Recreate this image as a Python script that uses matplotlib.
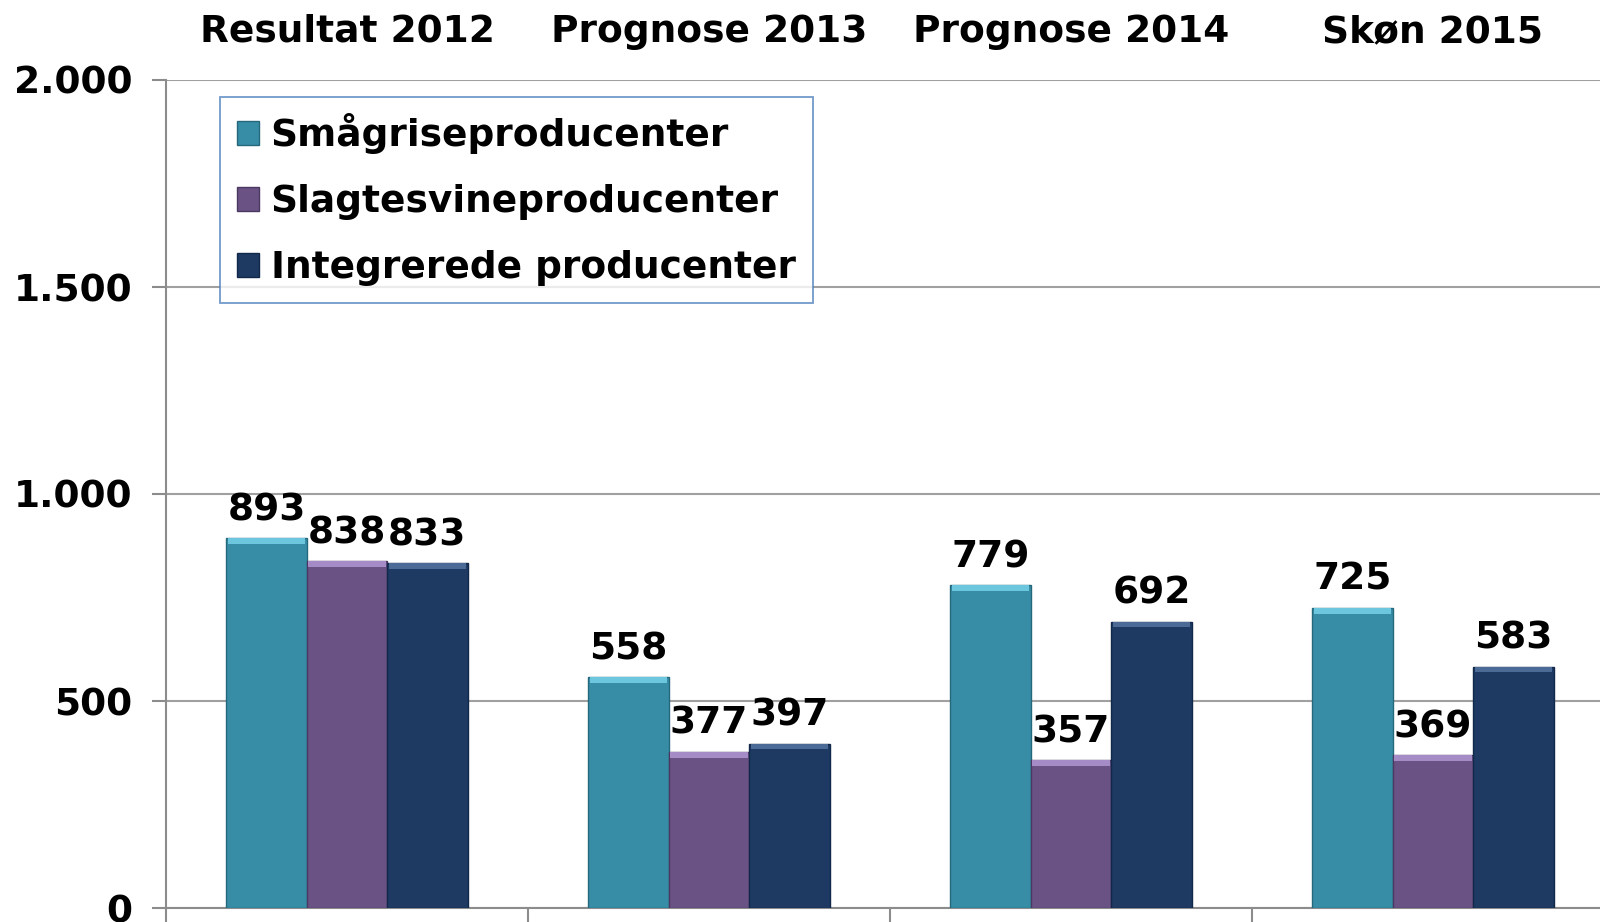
import matplotlib.pyplot as plt
import numpy as np

# Data
categories = ['Resultat 2012', 'Prognose 2013', 'Prognose 2014', 'Skøn 2015']
series_names = ['Smågriseproducenter', 'Slagtesvineproducenter', 'Integrerede producenter']
smaagris = [893, 558, 779, 725]
slagtesvin = [838, 377, 357, 369]
integrerede = [833, 397, 692, 583]
yticks = [0, 500, 1000, 1500, 2000]
ytick_labels = ['0', '500', '1.000', '1.500', '2.000']

colors = ['#378CA6', '#6A5384', '#1E3A62']
top_colors = ['#6CC6DE', '#A68CC6', '#4C6A96']
edge_colors = ['#25687C', '#4A3860', '#12284A']
FS = 27

fig = plt.figure(figsize=(16, 9.22), dpi=100)
# axes reaches slightly past the right edge like the original
ax = fig.add_axes([166 / 1600, 14 / 922, 1448 / 1600, 828 / 922])

x = np.arange(len(categories))
width = 0.222
values = [smaagris, slagtesvin, integrerede]

for i, (vals, name) in enumerate(zip(values, series_names)):
    pos = x + (i - 1) * width
    ax.bar(pos, vals, width, color=colors[i], edgecolor=edge_colors[i],
           linewidth=1, label=name, zorder=3)
    # light bevel strip on top of each bar
    ax.bar(pos, [14] * len(vals), width * 0.96, bottom=[v - 14 for v in vals],
           color=top_colors[i], linewidth=0, zorder=4)
    for p, v in zip(pos, vals):
        ax.text(p, v + 24, str(v), ha='center', va='bottom', fontsize=FS,
                fontweight='bold', color='black', zorder=5)

ax.set_xlim(-0.5, len(categories) - 0.5)
ax.set_ylim(0, 2000)
ax.set_yticks(yticks)
ax.set_yticklabels(ytick_labels, fontsize=FS, fontweight='bold')
ax.set_xticks(np.arange(len(categories) + 1) - 0.5)
ax.set_xticklabels([])
ax.tick_params(axis='y', length=10, width=1.5, color='#8C8C8C', pad=14)
ax.tick_params(axis='x', length=14, width=1.5, color='#8C8C8C')

ax.grid(True, axis='y', color='#A0A0A0', linewidth=1.5, zorder=0)
ax.set_axisbelow(True)
for s in ['top', 'right']:
    ax.spines[s].set_visible(False)
for s in ['left', 'bottom']:
    ax.spines[s].set_color('#8C8C8C')
    ax.spines[s].set_linewidth(1.5)

# category labels above the plot
for xi, c in zip(x, categories):
    ax.text(xi, 1.058, c, transform=ax.get_xaxis_transform(), ha='center',
            va='center', fontsize=FS, fontweight='bold')

leg = ax.legend(loc='upper left', bbox_to_anchor=(54 / 1448, 0.98),
                prop={'size': FS, 'weight': 'bold'}, frameon=True, fancybox=False,
                handlelength=0.6, handleheight=0.6, handletextpad=0.3,
                labelspacing=0.8, borderpad=0.45, borderaxespad=0)
leg.get_frame().set_edgecolor('#4F81BD')
leg.get_frame().set_linewidth(1.3)

fig.savefig('out.png', dpi=100)
